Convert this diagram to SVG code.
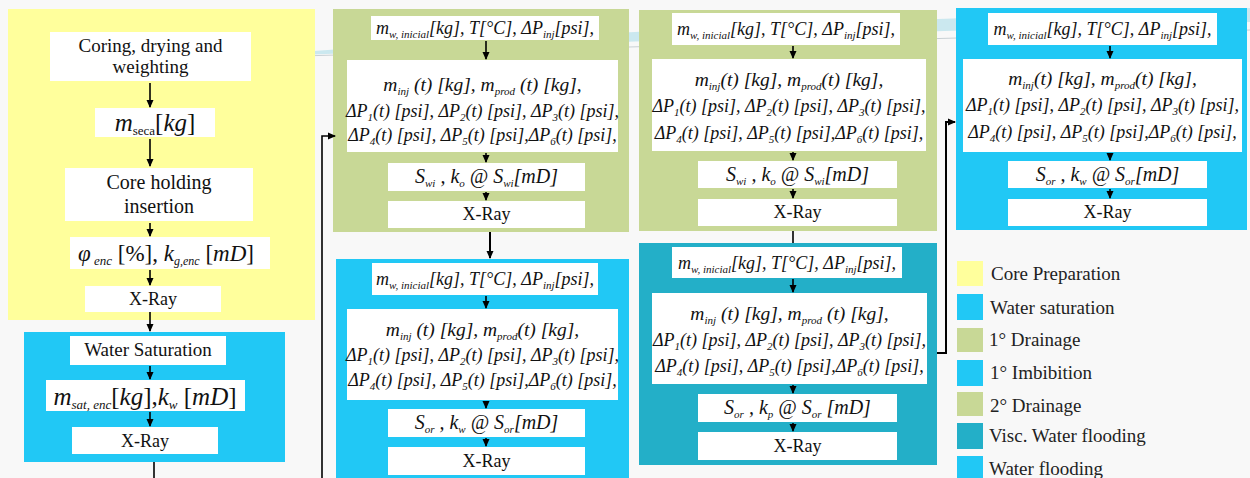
<svg xmlns="http://www.w3.org/2000/svg" width="1250" height="478" viewBox="0 0 1250 478">
<defs>
<style>
.t{font-family:"Liberation Serif","Times New Roman",serif;fill:#111}
.i{font-style:italic}
.s{font-size:11px}
.box{fill:#fff}
.yel{fill:#FFFF9C}
.blu{fill:#21C8F5}
.grn{fill:#C8D896}
.tea{fill:#23AFC8}
.ln{stroke:#000;stroke-width:1.6;fill:none}
.lg{font-family:"Liberation Serif","Times New Roman",serif;font-size:19px;fill:#222}
</style>
<marker id="ah" markerUnits="userSpaceOnUse" markerWidth="8" markerHeight="8" viewBox="0 0 8 8" refX="7" refY="4" orient="auto">
<path d="M0,0.5 L8,4 L0,7.5 Z" fill="#000"/>
</marker>
</defs>
<rect x="0" y="0" width="1250" height="478" fill="#F8F8F8"/>
<g id="decor">
<path d="M300,52 C600,30 900,20 1250,8 L1250,22 C900,32 600,42 300,55 Z" fill="#BFE3EC" opacity="0.8"/>
<path d="M300,56 L1250,30" stroke="#C8D0D4" stroke-width="1"/>
</g>

<!-- Left column: core preparation -->
<g id="panel-core-prep">
<rect class="yel" x="8" y="9" width="307" height="311"/>
</g>
<g id="n-coring">
<rect class="box" x="50" y="32" width="201" height="49"/>
<text class="t" x="150.5" y="52" font-size="19" text-anchor="middle">Coring, drying and</text>
<text class="t" x="150.5" y="73" font-size="19" text-anchor="middle">weighting</text>
</g>
<g id="n-mseca">
<rect class="box" x="95" y="108" width="120" height="29"/>
<text class="t" x="155" y="131" font-size="25" text-anchor="middle"><tspan class="i">m</tspan><tspan font-size="13" dy="4">seca</tspan><tspan dy="-4">[</tspan><tspan class="i">kg</tspan><tspan>]</tspan></text>
</g>
<g id="n-core-holding">
<rect class="box" x="65" y="168" width="188" height="53"/>
<text class="t" x="159" y="189" font-size="20" text-anchor="middle">Core holding</text>
<text class="t" x="159" y="213" font-size="20" text-anchor="middle">insertion</text>
</g>
<g id="n-phi">
<rect class="box" x="70" y="237" width="200" height="32"/>
<text class="t" x="166" y="261" font-size="23" text-anchor="middle"><tspan class="i">φ</tspan><tspan class="i" font-size="13" dy="4"> enc</tspan><tspan dy="-4"> [%], </tspan><tspan class="i">k</tspan><tspan class="i" font-size="12" dy="4">g,enc</tspan><tspan dy="-4"> [</tspan><tspan class="i">mD</tspan><tspan>]</tspan></text>
</g>
<g id="n-xray-1">
<rect class="box" x="85" y="286" width="136" height="26"/>
<text class="t" x="153" y="305" font-size="18" text-anchor="middle">X-Ray</text>
</g>

<g id="panel-water-sat">
<rect class="blu" x="24" y="332" width="261" height="130"/>
</g>
<g id="n-water-saturation">
<rect class="box" x="70" y="336" width="156" height="29"/>
<text class="t" x="148" y="356" font-size="19" text-anchor="middle">Water Saturation</text>
</g>
<g id="n-msat">
<rect class="box" x="46" y="380" width="199" height="31"/>
<text class="t" x="145" y="405" font-size="25" text-anchor="middle"><tspan class="i">m</tspan><tspan class="i" font-size="13" dy="4">sat, enc</tspan><tspan dy="-4">[</tspan><tspan class="i">kg</tspan><tspan>],</tspan><tspan class="i">k</tspan><tspan class="i" font-size="13" dy="4">w</tspan><tspan dy="-4"> [</tspan><tspan class="i">mD</tspan><tspan>]</tspan></text>
</g>
<g id="n-xray-2">
<rect class="box" x="72" y="427" width="146" height="27"/>
<text class="t" x="145" y="447" font-size="18" text-anchor="middle">X-Ray</text>
</g>

<!-- Panel A: 1° drainage -->
<g id="panel-drainage-1">
<rect class="grn" x="333" y="9" width="296" height="223"/>
</g>
<g id="a-box1">
<rect class="box" x="371" y="16" width="228" height="24"/>
<text class="t i" x="485" y="34" font-size="18" text-anchor="middle">m<tspan class="s" dy="4">w, inicial</tspan><tspan dy="-4">[kg], T[°C], ΔP</tspan><tspan class="s" dy="4">inj</tspan><tspan dy="-4">[psi],</tspan></text>
</g>
<g id="a-box2">
<rect class="box" x="347" y="60" width="271" height="92"/>
<text class="t i" x="482.5" y="91" font-size="19.5" text-anchor="middle">m<tspan class="s" dy="4">inj</tspan><tspan dy="-4"> (t) [kg], m</tspan><tspan class="s" dy="4">prod</tspan><tspan dy="-4"> (t) [kg],</tspan></text>
<text class="t i" x="482.5" y="117" font-size="18" text-anchor="middle">ΔP<tspan class="s" dy="4">1</tspan><tspan dy="-4">(t) [psi], ΔP</tspan><tspan class="s" dy="4">2</tspan><tspan dy="-4">(t) [psi], ΔP</tspan><tspan class="s" dy="4">3</tspan><tspan dy="-4">(t) [psi],</tspan></text>
<text class="t i" x="482.5" y="141" font-size="18" text-anchor="middle">ΔP<tspan class="s" dy="4">4</tspan><tspan dy="-4">(t) [psi], ΔP</tspan><tspan class="s" dy="4">5</tspan><tspan dy="-4">(t) [psi],ΔP</tspan><tspan class="s" dy="4">6</tspan><tspan dy="-4">(t) [psi],</tspan></text>
</g>
<g id="a-box3">
<rect class="box" x="388" y="163" width="197" height="28"/>
<text class="t i" x="486.5" y="183" font-size="20" text-anchor="middle">S<tspan class="s" dy="4">wi</tspan><tspan dy="-4"> , k</tspan><tspan class="s" dy="4">o</tspan><tspan dy="-4"> @ S</tspan><tspan class="s" dy="4">wi</tspan><tspan dy="-4">[mD]</tspan></text>
</g>
<g id="a-xray">
<rect class="box" x="388" y="201" width="197" height="27"/>
<text class="t" x="486.5" y="220" font-size="18" text-anchor="middle">X-Ray</text>
</g>

<!-- Panel B: 1° imbibition -->
<g id="panel-imbibition-1">
<rect class="blu" x="336" y="259" width="293" height="219"/>
</g>
<g id="b-box1">
<rect class="box" x="372" y="263" width="226" height="32"/>
<text class="t i" x="485" y="285" font-size="18" text-anchor="middle">m<tspan class="s" dy="4">w, inicial</tspan><tspan dy="-4">[kg], T[°C], ΔP</tspan><tspan class="s" dy="4">inj</tspan><tspan dy="-4">[psi],</tspan></text>
</g>
<g id="b-box2">
<rect class="box" x="347" y="309" width="271" height="91"/>
<text class="t i" x="482.5" y="336" font-size="19.5" text-anchor="middle">m<tspan class="s" dy="4">inj</tspan><tspan dy="-4"> (t) [kg], m</tspan><tspan class="s" dy="4">prod</tspan><tspan dy="-4">(t) [kg],</tspan></text>
<text class="t i" x="482.5" y="361" font-size="18" text-anchor="middle">ΔP<tspan class="s" dy="4">1</tspan><tspan dy="-4">(t) [psi], ΔP</tspan><tspan class="s" dy="4">2</tspan><tspan dy="-4">(t) [psi], ΔP</tspan><tspan class="s" dy="4">3</tspan><tspan dy="-4">(t) [psi],</tspan></text>
<text class="t i" x="482.5" y="386" font-size="18" text-anchor="middle">ΔP<tspan class="s" dy="4">4</tspan><tspan dy="-4">(t) [psi], ΔP</tspan><tspan class="s" dy="4">5</tspan><tspan dy="-4">(t) [psi],ΔP</tspan><tspan class="s" dy="4">6</tspan><tspan dy="-4">(t) [psi],</tspan></text>
</g>
<g id="b-box3">
<rect class="box" x="388" y="409" width="197" height="28"/>
<text class="t i" x="486.5" y="429" font-size="20" text-anchor="middle">S<tspan class="s" dy="4">or</tspan><tspan dy="-4"> , k</tspan><tspan class="s" dy="4">w</tspan><tspan dy="-4"> @ S</tspan><tspan class="s" dy="4">or</tspan><tspan dy="-4">[mD]</tspan></text>
</g>
<g id="b-xray">
<rect class="box" x="388" y="447" width="197" height="28"/>
<text class="t" x="486.5" y="467" font-size="18" text-anchor="middle">X-Ray</text>
</g>

<!-- Panel C: 2° drainage -->
<g id="panel-drainage-2">
<rect class="grn" x="639" y="10" width="298" height="221"/>
</g>
<g id="c-box1">
<rect class="box" x="672" y="13" width="228" height="32"/>
<text class="t i" x="786" y="35" font-size="18" text-anchor="middle">m<tspan class="s" dy="4">w, inicial</tspan><tspan dy="-4">[kg], T[°C], ΔP</tspan><tspan class="s" dy="4">inj</tspan><tspan dy="-4">[psi],</tspan></text>
</g>
<g id="c-box2">
<rect class="box" x="652" y="59" width="274" height="92"/>
<text class="t i" x="789" y="86" font-size="19.5" text-anchor="middle">m<tspan class="s" dy="4">inj</tspan><tspan dy="-4">(t) [kg], m</tspan><tspan class="s" dy="4">prod</tspan><tspan dy="-4">(t) [kg],</tspan></text>
<text class="t i" x="789" y="112" font-size="18" text-anchor="middle">ΔP<tspan class="s" dy="4">1</tspan><tspan dy="-4">(t) [psi], ΔP</tspan><tspan class="s" dy="4">2</tspan><tspan dy="-4">(t) [psi], ΔP</tspan><tspan class="s" dy="4">3</tspan><tspan dy="-4">(t) [psi],</tspan></text>
<text class="t i" x="789" y="139" font-size="18" text-anchor="middle">ΔP<tspan class="s" dy="4">4</tspan><tspan dy="-4">(t) [psi], ΔP</tspan><tspan class="s" dy="4">5</tspan><tspan dy="-4">(t) [psi],ΔP</tspan><tspan class="s" dy="4">6</tspan><tspan dy="-4">(t) [psi],</tspan></text>
</g>
<g id="c-box3">
<rect class="box" x="698" y="161" width="199" height="27"/>
<text class="t i" x="797.5" y="181" font-size="20" text-anchor="middle">S<tspan class="s" dy="4">wi</tspan><tspan dy="-4"> , k</tspan><tspan class="s" dy="4">o</tspan><tspan dy="-4"> @ S</tspan><tspan class="s" dy="4">wi</tspan><tspan dy="-4">[mD]</tspan></text>
</g>
<g id="c-xray">
<rect class="box" x="698" y="199" width="199" height="27"/>
<text class="t" x="797.5" y="218" font-size="18" text-anchor="middle">X-Ray</text>
</g>

<!-- Panel D: viscous water flooding -->
<g id="panel-visc-waterflooding">
<rect class="tea" x="639" y="243" width="298" height="222"/>
</g>
<g id="d-box1">
<rect class="box" x="672" y="247" width="230" height="31"/>
<text class="t i" x="787" y="269" font-size="18" text-anchor="middle">m<tspan class="s" dy="4">w, inicial</tspan><tspan dy="-4">[kg], T[°C], ΔP</tspan><tspan class="s" dy="4">inj</tspan><tspan dy="-4">[psi],</tspan></text>
</g>
<g id="d-box2">
<rect class="box" x="652" y="293" width="275" height="91"/>
<text class="t i" x="789.5" y="320" font-size="19.5" text-anchor="middle">m<tspan class="s" dy="4">inj</tspan><tspan dy="-4"> (t) [kg], m</tspan><tspan class="s" dy="4">prod</tspan><tspan dy="-4"> (t) [kg],</tspan></text>
<text class="t i" x="789.5" y="346" font-size="18" text-anchor="middle">ΔP<tspan class="s" dy="4">1</tspan><tspan dy="-4">(t) [psi], ΔP</tspan><tspan class="s" dy="4">2</tspan><tspan dy="-4">(t) [psi], ΔP</tspan><tspan class="s" dy="4">3</tspan><tspan dy="-4">(t) [psi],</tspan></text>
<text class="t i" x="789.5" y="372" font-size="18" text-anchor="middle">ΔP<tspan class="s" dy="4">4</tspan><tspan dy="-4">(t) [psi], ΔP</tspan><tspan class="s" dy="4">5</tspan><tspan dy="-4">(t) [psi],ΔP</tspan><tspan class="s" dy="4">6</tspan><tspan dy="-4">(t) [psi],</tspan></text>
</g>
<g id="d-box3">
<rect class="box" x="698" y="394" width="199" height="28"/>
<text class="t i" x="797.5" y="414" font-size="20" text-anchor="middle">S<tspan class="s" dy="4">or</tspan><tspan dy="-4"> , k</tspan><tspan class="s" dy="4">p</tspan><tspan dy="-4"> @ S</tspan><tspan class="s" dy="4">or</tspan><tspan dy="-4"> [mD]</tspan></text>
</g>
<g id="d-xray">
<rect class="box" x="698" y="432" width="199" height="28"/>
<text class="t" x="797.5" y="452" font-size="18" text-anchor="middle">X-Ray</text>
</g>

<!-- Panel E: water flooding -->
<g id="panel-waterflooding">
<rect class="blu" x="956" y="8" width="291" height="222"/>
</g>
<g id="e-box1">
<rect class="box" x="988" y="13" width="229" height="32"/>
<text class="t i" x="1102.5" y="35" font-size="18" text-anchor="middle">m<tspan class="s" dy="4">w, inicial</tspan><tspan dy="-4">[kg], T[°C], ΔP</tspan><tspan class="s" dy="4">inj</tspan><tspan dy="-4">[psi],</tspan></text>
</g>
<g id="e-box2">
<rect class="box" x="963" y="59" width="279" height="93"/>
<text class="t i" x="1102.5" y="85" font-size="19.5" text-anchor="middle">m<tspan class="s" dy="4">inj</tspan><tspan dy="-4">(t) [kg], m</tspan><tspan class="s" dy="4">prod</tspan><tspan dy="-4">(t) [kg],</tspan></text>
<text class="t i" x="1102.5" y="111" font-size="18" text-anchor="middle">ΔP<tspan class="s" dy="4">1</tspan><tspan dy="-4">(t) [psi], ΔP</tspan><tspan class="s" dy="4">2</tspan><tspan dy="-4">(t) [psi], ΔP</tspan><tspan class="s" dy="4">3</tspan><tspan dy="-4">(t) [psi],</tspan></text>
<text class="t i" x="1102.5" y="138" font-size="18" text-anchor="middle">ΔP<tspan class="s" dy="4">4</tspan><tspan dy="-4">(t) [psi], ΔP</tspan><tspan class="s" dy="4">5</tspan><tspan dy="-4">(t) [psi],ΔP</tspan><tspan class="s" dy="4">6</tspan><tspan dy="-4">(t) [psi],</tspan></text>
</g>
<g id="e-box3">
<rect class="box" x="1008" y="161" width="199" height="27"/>
<text class="t i" x="1107.5" y="181" font-size="20" text-anchor="middle">S<tspan class="s" dy="4">or</tspan><tspan dy="-4"> , k</tspan><tspan class="s" dy="4">w</tspan><tspan dy="-4"> @ S</tspan><tspan class="s" dy="4">or</tspan><tspan dy="-4">[mD]</tspan></text>
</g>
<g id="e-xray">
<rect class="box" x="1008" y="199" width="199" height="27"/>
<text class="t" x="1107.5" y="218" font-size="18" text-anchor="middle">X-Ray</text>
</g>

<!-- Connectors -->
<g id="connectors" class="ln">
<path d="M150,83 V107" marker-end="url(#ah)"/>
<path d="M150,139 V166" marker-end="url(#ah)"/>
<path d="M150,223 V236" marker-end="url(#ah)"/>
<path d="M150,270 V285" marker-end="url(#ah)"/>
<path d="M150,312 V331" marker-end="url(#ah)"/>
<path d="M150,366 V379" marker-end="url(#ah)"/>
<path d="M150,412 V426" marker-end="url(#ah)"/>
<path d="M154,462 V478"/>
<path d="M322,478 V136 H335" marker-end="url(#ah)"/>
<path d="M486,41 V59" marker-end="url(#ah)"/>
<path d="M486,153 V162" marker-end="url(#ah)"/>
<path d="M486,192 V200" marker-end="url(#ah)"/>
<path d="M490,232 V258" stroke-width="2" marker-end="url(#ah)"/>
<path d="M486,296 V308" marker-end="url(#ah)"/>
<path d="M486,401 V408" marker-end="url(#ah)"/>
<path d="M486,438 V446" marker-end="url(#ah)"/>
<path d="M793,46 V58" marker-end="url(#ah)"/>
<path d="M793,152 V160" marker-end="url(#ah)"/>
<path d="M793,189 V198" marker-end="url(#ah)"/>
<path d="M793,231 V243"/>
<path d="M793,279 V292" marker-end="url(#ah)"/>
<path d="M793,385 V393" marker-end="url(#ah)"/>
<path d="M793,423 V431" marker-end="url(#ah)"/>
<path d="M937,353 H946 V122 H955" stroke-width="2" marker-end="url(#ah)"/>
<path d="M1110,46 V58" marker-end="url(#ah)"/>
<path d="M1110,153 V160" marker-end="url(#ah)"/>
<path d="M1110,189 V198" marker-end="url(#ah)"/>
</g>

<!-- Legend -->
<g id="legend">
<rect class="yel" x="957" y="261" width="26" height="25"/>
<text class="lg" x="991" y="280">Core Preparation</text>
<rect class="blu" x="957" y="294" width="26" height="26"/>
<text class="lg" x="990" y="314">Water saturation</text>
<rect class="grn" x="957" y="328" width="26" height="24"/>
<text class="lg" x="989" y="346">1° Drainage</text>
<rect class="blu" x="957" y="360" width="26" height="26"/>
<text class="lg" x="990" y="379">1° Imbibition</text>
<rect class="grn" x="957" y="392" width="26" height="24"/>
<text class="lg" x="990" y="412">2° Drainage</text>
<rect class="tea" x="957" y="423" width="26" height="26"/>
<text class="lg" x="989" y="442">Visc. Water flooding</text>
<rect class="blu" x="957" y="456" width="26" height="22"/>
<text class="lg" x="989" y="475">Water flooding</text>
</g>
</svg>
